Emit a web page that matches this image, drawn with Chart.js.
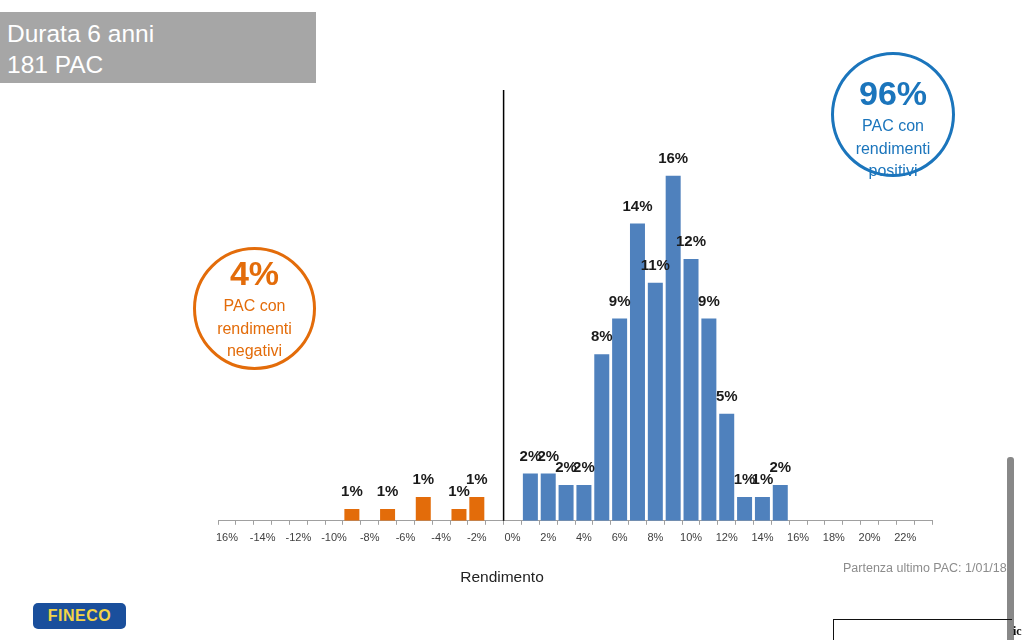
<!DOCTYPE html>
<html>
<head>
<meta charset="utf-8">
<script src="https://cdn.jsdelivr.net/npm/chart.js@4"></script>
<style>
  body { margin: 0; width: 1024px; height: 640px; background: #fff; position: relative; overflow: hidden; font-family: Arial, "Liberation Sans", sans-serif; }
  #wrap { position: absolute; left: 0; top: 0; width: 1024px; height: 640px; }
  .header { position: absolute; left: 0; top: 12px; width: 316px; height: 71px; background: #a6a6a6; color: #fff; font-size: 24.5px; line-height: 31px; padding: 6px 0 0 7px; box-sizing: border-box; }
  .circle { position: absolute; border-radius: 50%; box-sizing: border-box; text-align: center; }
  .neg { left: 193px; top: 247px; width: 123px; height: 123px; border: 3px solid #e36c0a; color: #e36c0a; }
  .pos { left: 831px; top: 52px; width: 124px; height: 125px; border: 3px solid #1b75bc; color: #1b75bc; }
  .big { font-weight: bold; font-size: 34px; line-height: 36px; }
  .small { font-size: 16px; line-height: 22.5px; }
  .xtitle { position: absolute; left: 440px; top: 568px; width: 124px; text-align: center; font-size: 15.5px; color: #222; }
  .note { position: absolute; left: 843px; top: 561px; font-size: 12.5px; color: #8c8c8c; white-space: nowrap; }
  .logo { position: absolute; left: 33px; top: 603px; width: 93px; height: 26px; background: #1a4f9c; border-radius: 5px; color: #f2d447; font-weight: bold; font-size: 16px; line-height: 26px; text-align: center; letter-spacing: 0.5px; }
  .sidebar { position: absolute; left: 1007px; top: 457px; width: 7px; height: 183px; background: #888; border-radius: 3px 3px 0 0; }
  .box { position: absolute; left: 833px; top: 619px; width: 178px; height: 30px; border: 1px solid #111; border-right: none; }
  .frag { position: absolute; left: 1013px; top: 624px; font-family: "Liberation Serif", serif; font-weight: bold; font-size: 12px; color: #111; }
</style>
</head>
<body>
<div id="wrap"><canvas id="histChart" width="1024" height="640"></canvas></div>

<div class="header">Durata 6 anni<br>181 PAC</div>

<div class="circle neg">
  <div class="big" style="margin-top:5px">4%</div>
  <div class="small" style="margin-top:4px">PAC con<br>rendimenti<br>negativi</div>
</div>
<div class="circle pos">
  <div class="big" style="margin-top:20px">96%</div>
  <div class="small" style="margin-top:4px">PAC con<br>rendimenti<br>positivi</div>
</div>

<div class="xtitle">Rendimento</div>
<div class="note">Partenza ultimo PAC: 1/01/18</div>
<div class="logo">FINECO</div>
<div class="sidebar"></div>
<div class="box"></div>
<div class="frag">ic</div>

<script>
// bins of 1% return, from -16% to 23%
const categories = [-16, -15, -14, -13, -12, -11, -10, -9, -8, -7, -6, -5, -4, -3, -2, -1,
    0, 1, 2, 3, 4, 5, 6, 7, 8, 9, 10, 11, 12, 13, 14, 15, 16, 17, 18, 19, 20, 21, 22, 23];

const tickLabels = ['16%', '', '-14%', '', '-12%', '', '-10%', '', '-8%', '', '-6%', '', '-4%', '', '-2%', '',
    '0%', '', '2%', '', '4%', '', '6%', '', '8%', '', '10%', '', '12%', '', '14%', '', '16%', '', '18%', '', '20%', '', '22%', ''];

// negative returns (share of PAC, %)
const negBins = [-9, -7, -5, -3, -2];
const negValues = [0.55, 0.55, 1.1, 0.55, 1.1];

// positive returns (share of PAC, %)
const posBins = [1, 2, 3, 4, 5, 6, 7, 8, 9, 10, 11, 12, 13, 14, 15];
const posValues = [2.2, 2.2, 1.66, 1.66, 7.73, 9.39, 13.8, 11.05, 16.02, 12.15, 9.39, 4.97, 1.1, 1.1, 1.66];

function toSeries(bins, values) {
    return categories.map(c => {
        const i = bins.indexOf(c);
        return i >= 0 ? values[i] : null;
    });
}

// value labels above bars
const barLabels = {
    id: 'barLabels',
    afterDatasetsDraw(chart) {
        const ctx = chart.ctx;
        ctx.save();
        ctx.font = 'bold 15px Arial, "Liberation Sans", sans-serif';
        ctx.fillStyle = '#1a1a1a';
        ctx.textAlign = 'center';
        ctx.textBaseline = 'middle';
        chart.data.datasets.forEach((ds, di) => {
            chart.getDatasetMeta(di).data.forEach((bar, i) => {
                const v = ds.data[i];
                if (v == null) return;
                ctx.fillText(Math.round(v) + '%', bar.x, bar.y - 17);
            });
        });
        ctx.restore();
    }
};

// black line between -1% and 0%
const zeroLine = {
    id: 'zeroLine',
    afterDatasetsDraw(chart) {
        const x = chart.scales.x;
        const px = (x.getPixelForValue(categories.indexOf(-1)) + x.getPixelForValue(categories.indexOf(0))) / 2;
        const ctx = chart.ctx;
        ctx.save();
        ctx.strokeStyle = '#000';
        ctx.lineWidth = 1.5;
        ctx.beginPath();
        ctx.moveTo(px, chart.chartArea.top);
        ctx.lineTo(px, chart.chartArea.bottom);
        ctx.stroke();
        ctx.restore();
    }
};

const ctx = document.getElementById('histChart').getContext('2d');

new Chart(ctx, {
    type: 'bar',
    data: {
        labels: categories.map(c => c + '%'),
        datasets: [
            {
                label: 'Negativi',
                data: toSeries(negBins, negValues),
                backgroundColor: '#e36c0a',
                grouped: false,
                barPercentage: 0.84,
                categoryPercentage: 1
            },
            {
                label: 'Positivi',
                data: toSeries(posBins, posValues),
                backgroundColor: '#4f81bd',
                grouped: false,
                barPercentage: 0.84,
                categoryPercentage: 1
            }
        ]
    },
    options: {
        responsive: false,
        animation: false,
        layout: {
            padding: { left: 218, right: 92, top: 90, bottom: 88 }
        },
        plugins: {
            legend: { display: false },
            tooltip: { enabled: false }
        },
        scales: {
            x: {
                grid: {
                    display: true,
                    drawOnChartArea: false,
                    tickLength: 4,
                    color: '#a0a0a0'
                },
                border: { color: '#a0a0a0', width: 1 },
                ticks: {
                    autoSkip: false,
                    maxRotation: 0,
                    padding: 7,
                    color: '#404040',
                    font: { size: 11, family: 'Arial, "Liberation Sans", sans-serif' },
                    callback: (val, i) => tickLabels[i]
                }
            },
            y: {
                display: false,
                min: 0,
                max: 20
            }
        }
    },
    plugins: [barLabels, zeroLine]
});
</script>
</body>
</html>
